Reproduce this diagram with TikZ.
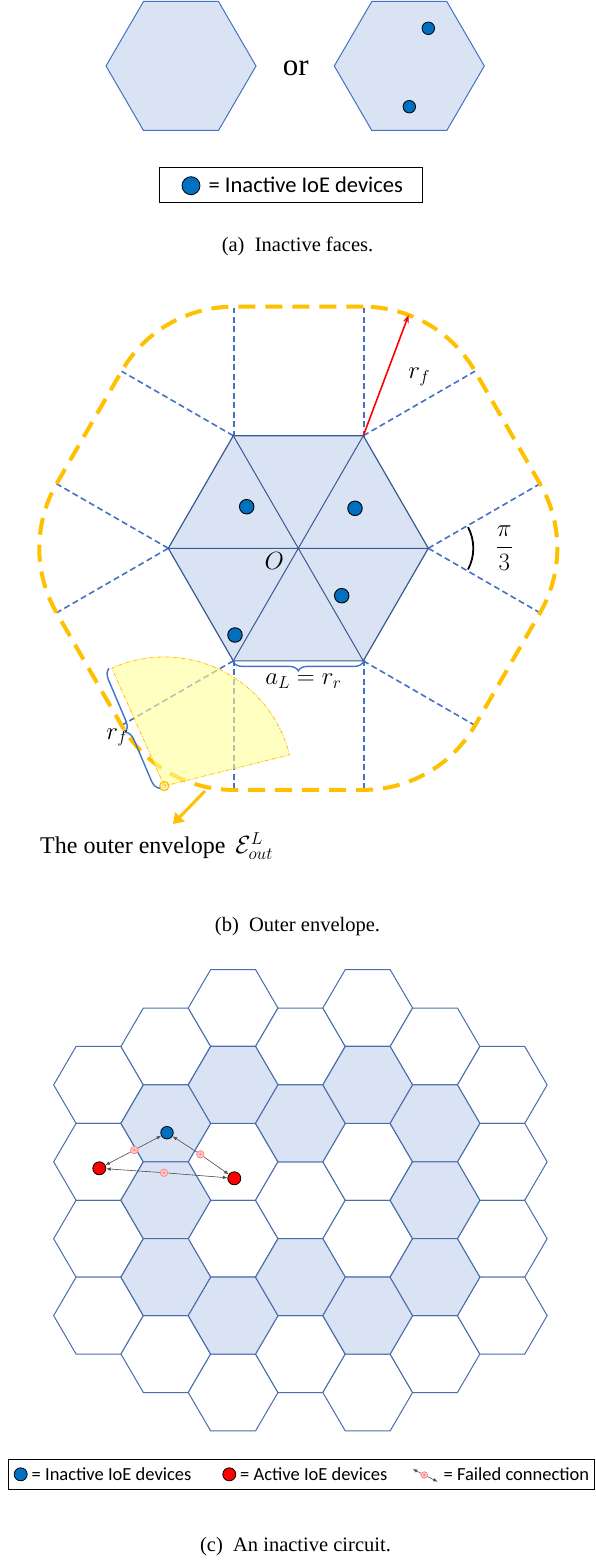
\documentclass[tikz,border=0pt]{standalone}
\usepackage{fontspec}
\setmainfont{Liberation Serif}
\newfontfamily\legendfont{Carlito}
\usetikzlibrary{decorations.pathreplacing,arrows.meta}
\definecolor{hexfill}{HTML}{DAE3F3}
\definecolor{hexline}{HTML}{4472C4}
\definecolor{hexdark}{HTML}{3A5A94}
\definecolor{gridline}{HTML}{4A6EAD}
\definecolor{devblue}{HTML}{0070C0}
\definecolor{devred}{HTML}{FF0000}
\definecolor{rfred}{HTML}{FF0000}
\definecolor{envcol}{HTML}{FFC000}
\definecolor{sectfill}{HTML}{FFFF99}
\newcommand\hexshape[4]{({#1+#3},{#2}) -- ({#1+#3/2},{#2-#4}) -- ({#1-#3/2},{#2-#4}) -- ({#1-#3},{#2}) -- ({#1-#3/2},{#2+#4}) -- ({#1+#3/2},{#2+#4}) -- cycle}
\newcommand\envpt[2]{({130*cos(#1)+129*cos(#2)},{130*sin(#1)+129*sin(#2)})}
\tikzset{
  hexA/.style={fill=hexfill, draw=hexline, line width=1pt},
  hexB/.style={fill=hexfill, draw=hexdark, line width=1.2pt},
  cellW/.style={fill=white, draw=gridline, line width=1pt},
  cellS/.style={fill=hexfill, draw=gridline, line width=1pt},
  devA/.style={circle, fill=devblue, draw=black, line width=0.8pt, inner sep=0pt, minimum size=12.5pt},
  devB/.style={circle, fill=devblue, draw=black, line width=0.9pt, inner sep=0pt, minimum size=14.5pt},
  actdev/.style={circle, fill=devred, draw=black, line width=0.8pt, inner sep=0pt, minimum size=13pt},
  guide/.style={draw=hexline, line width=1.6pt, dash pattern=on 6pt off 3.5pt},
  vguide/.style={draw=hexline, line width=2pt, dash pattern=on 6pt off 3.5pt},
  env/.style={draw=envcol, line width=4pt, dash pattern=on 17pt off 10pt},
  sect/.style={fill=sectfill, fill opacity=0.6, draw=envcol, line width=0.8pt, dash pattern=on 4pt off 1.5pt on 1pt off 1.5pt},
  brc/.style={draw=hexline, line width=1.4pt, decorate, decoration={brace, amplitude=9pt}},
  mth/.style={font=\fontsize{24}{28}\selectfont, inner sep=0pt},
  rfarrow/.style={draw=rfred, line width=1.6pt, -{Stealth[length=8pt,width=6pt]}},
  capt/.style={font=\fontsize{20.5}{24}\selectfont, inner sep=0pt, anchor=base},
  legA/.style={font=\legendfont\fontsize{22.5}{26}\selectfont, inner sep=0pt, anchor=base west},
  legC/.style={font=\legendfont\fontsize{18.5}{22}\selectfont, inner sep=0pt, anchor=base west},
  legbox/.style={draw=black, line width=1pt},
  fail/.style={circle, fill=red!22, draw=red!50, line width=0.7pt, inner sep=0pt, minimum size=7.5pt,
    path picture={\fill[red!55] (path picture bounding box.center) circle (1.1pt);}},
  conn/.style={draw=black!70, line width=0.6pt, -{Latex[length=4.5pt,width=3.5pt]}},
  envarrow/.style={draw=envcol, line width=3pt, -{Triangle[length=10pt,width=13pt]}}
}
\begin{document}
\begin{tikzpicture}[x=1pt,y=-1pt]
\useasboundingbox (0,0) rectangle (595,1562);
\fill[white] (0,0) rectangle (595,1562);

% ---------------- (a) ----------------
\draw[hexA] \hexshape{181}{66}{75}{64.5};
\draw[hexA] \hexshape{409.3}{66}{75}{64.5};
\node[devA] (a1) at (428.3,28.3) {};
\node[devA] (a2) at (409.3,106.7) {};
\node[font=\fontsize{31}{36}\selectfont, inner sep=0pt, anchor=base] (orword) at (295.7,76) {or};
\draw[legbox] (159.3,167.3) rectangle (422.3,203);
\node[devA, minimum size=18pt] (la) at (191,185.7) {};
\node[legA] (lta) at (208.5,192.7) {= Inactive IoE devices};
\node[capt] (capa) at (297.5,251.7) {(a)\hspace{0.5em}Inactive faces.};

% ---------------- (b) ----------------
% vertical guides (top and bottom edges' normals)
\draw[vguide] (233.5,436.7) -- (233.5,307.7);
\draw[vguide] (363.5,436.7) -- (363.5,307.7);
\draw[vguide] (233.5,659.9) -- (233.5,788.9);
\draw[vguide] (363.5,659.9) -- (363.5,788.9);
\begin{scope}[shift={(298.3,548.3)}, yscale=-1]
  \foreach \k in {0,...,5} { \coordinate (V\k) at (60*\k:130); }
  \foreach \k/\d in {0/-30, 0/30, 1/30, 2/150, 3/150, 3/210, 4/210, 5/330} {
    \draw[guide] (V\k) -- ++(\d:129);
  }
  \filldraw[hexB] (V0) -- (V1) -- (V2) -- (V3) -- (V4) -- (V5) -- cycle;
  \draw[hexdark, line width=1pt] (V0) -- (V3) (V1) -- (V4) (V2) -- (V5);
  \draw[env] \envpt{60}{90} -- \envpt{120}{90}
    arc[start angle=90, end angle=150, radius=129] -- \envpt{180}{150}
    arc[start angle=150, end angle=210, radius=129] -- \envpt{240}{210}
    arc[start angle=210, end angle=270, radius=129] -- \envpt{300}{270}
    arc[start angle=270, end angle=330, radius=129] -- \envpt{0}{330}
    arc[start angle=-30, end angle=30, radius=129] -- \envpt{60}{30}
    arc[start angle=30, end angle=90, radius=129] -- cycle;
  % devices
  \node[devB] (d1) at (-51.6,41.6) {};
  \node[devB] (d2) at (56.7,40) {};
  \node[devB] (d3) at (43.4,-47.4) {};
  \node[devB] (d4) at (-63.3,-86.7) {};
  % red radius arrow
  \path (V1) ++(69.4:129) coordinate (rfend);
  \draw[rfarrow] (V1) -- (rfend);
  \node[mth] (rflab) at (121,171.6) {$r_f$};
  % angle pi/3
  \draw[black, line width=1.8pt] (V0) ++(-28:45) arc[start angle=-28, end angle=28, radius=45];
  \node[mth] (pilab) at (206,0) {$\displaystyle\frac{\pi}{3}$};
  \node[font=\fontsize{23}{27}\selectfont, inner sep=0pt] (olab) at (-24,-12.4) {$O$};
  % bottom brace
  \draw[brc, decoration={raise=1pt}] (V5) -- (V4);
  \node[mth] (alab) at (5,-133) {$a_L = r_r$};
  % yellow sector
  \coordinate (apex) at (-134,-237.7);
  \filldraw[sect] (apex) -- ++(114:129) arc[start angle=114, end angle=14, radius=129] -- cycle;
  \draw[envcol, line width=1.3pt] (apex) circle (4.5);
  \draw[envcol!60, line width=1pt] (apex) circle (2);
  \coordinate (brlo) at (-138.3,-240);
  \coordinate (brhi) at (-189.3,-120);
  \draw[brc, decoration={amplitude=10pt}] (brlo) -- (brhi);
  \node[mth] (rflab2) at (-181,-189) {$r_f$};
  % envelope arrow
  \coordinate (ea) at (-93.3,-242.7);
  \coordinate (eb) at (-125.3,-275.7);
  \draw[envarrow] (ea) -- (eb);
\end{scope}
\node[font=\fontsize{24}{28}\selectfont, inner sep=0pt, anchor=base west] (envlab) at (40,853.3) {The outer envelope \,$\mathcal{E}^{L}_{out}$};
\node[capt] (capb) at (297.5,931.7) {(b)\hspace{0.5em}Outer envelope.};

% ---------------- (c) ----------------
\foreach \c/\ys/\n in {0/1084.9/3, 1/1046.45/4, 2/1008/5, 3/1046.45/4, 4/1008/5, 5/1046.45/4, 6/1084.9/3} {
  \foreach \k in {0,...,\n} {
    \draw[cellW] \hexshape{98.5+67.3*\c}{\ys+76.9*\k}{44.85}{38.45};
  }
}
\foreach \c/\yy in {1/1123.35, 1/1200.25, 1/1277.15, 2/1084.9, 2/1315.6, 3/1123.35, 3/1277.15, 4/1084.9, 4/1315.6, 5/1123.35, 5/1200.25, 5/1277.15} {
  \draw[cellS] \hexshape{98.5+67.3*\c}{\yy}{44.85}{38.45};
}
\node[devA] (b1) at (167,1132.7) {};
\node[actdev] (r1) at (99.3,1168.3) {};
\node[actdev] (r2) at (234.3,1178.3) {};
\node[fail] (m1) at (134.3,1150) {};
\node[fail] (m2) at (200.3,1154.3) {};
\node[fail] (m3) at (164,1172.7) {};
\draw[conn] (m1) -- (b1);
\draw[conn] (m1) -- (r1);
\draw[conn] (m2) -- (b1);
\draw[conn] (m2) -- (r2);
\draw[conn] (m3) -- (r1);
\draw[conn] (m3) -- (r2);

% legend (c)
\draw[legbox] (8.3,1459.3) rectangle (594,1489.3);
\node[devA, minimum size=13pt] (lb) at (20.7,1474.3) {};
\node[legC] (ltb) at (31.5,1480) {= Inactive IoE devices};
\node[actdev, minimum size=13pt] (lr) at (229.3,1474.3) {};
\node[legC] (ltr) at (240,1480) {= Active IoE devices};
\node[fail, minimum size=6.5pt] (lm) at (424.3,1475) {};
\coordinate (lf1) at (412.8,1469);
\coordinate (lf2) at (437.7,1481.7);
\draw[conn] (lm) -- (lf1);
\draw[conn] (lm) -- (lf2);
\node[legC] (ltf) at (443.5,1480) {= Failed connection};
\node[capt] (capc) at (295.5,1551) {(c)\hspace{0.5em}An inactive circuit.};
\end{tikzpicture}
\end{document}
